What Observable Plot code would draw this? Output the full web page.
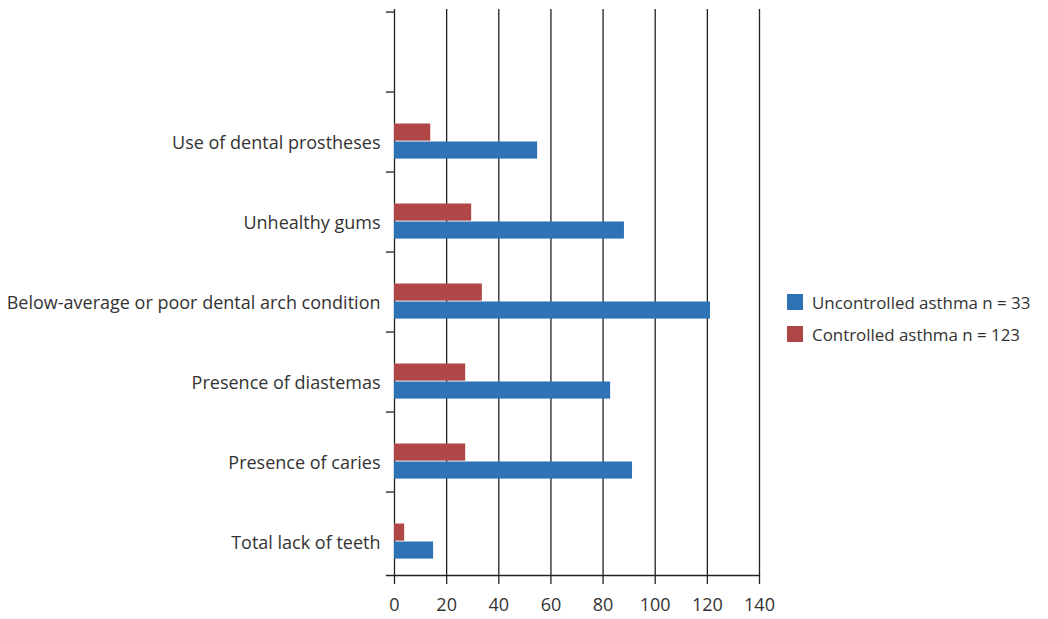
<!DOCTYPE html>
<html>
<head>
<meta charset="utf-8">
<script src="https://cdn.jsdelivr.net/npm/d3@7"></script>
<script src="https://cdn.jsdelivr.net/npm/@observablehq/plot@0.6"></script>
<style>
  html, body { margin: 0; padding: 0; background: #fff; }
  #wrap { position: relative; width: 1048px; height: 619px; font-family: "Open Sans", sans-serif; }
  #legend { position: absolute; left: 787px; top: 286px; font-size: 16.9px; color: #333; }
  .item { display: flex; align-items: center; height: 32px; }
  .sw { width: 16px; height: 16px; margin-right: 9px; }
</style>
</head>
<body>
<div id="wrap"><div id="legend"></div></div>
<script>
const categories = ["Total lack of teeth", "Presence of caries", "Presence of diastemas",
  "Below-average or poor dental arch condition", "Unhealthy gums", "Use of dental prostheses"];
const uncontrolled = [15, 91.3, 82.9, 121.2, 88.2, 54.9];
const controlled = [3.9, 27.3, 27.3, 33.7, 29.6, 13.9];
const seriesNames = ["Uncontrolled asthma n = 33", "Controlled asthma n = 123"];
const seriesColors = ["#2f72b6", "#b04646"];
const xTicks = [0, 20, 40, 60, 80, 100, 120, 140];

const data = categories.map((c, i) => ({category: c, uncontrolled: uncontrolled[i], controlled: controlled[i]}));
const yDomain = ["", ...categories.slice().reverse()];

const W = 1048, H = 619, ML = 394, MR = 289, MT = 9, MB = 44;
const bw = (H - MT - MB) / yDomain.length;

const chart = Plot.plot({
  width: W, height: H,
  marginLeft: ML, marginRight: MR, marginTop: MT, marginBottom: MB,
  style: {fontFamily: "Open Sans, sans-serif", fontSize: "18px", color: "#333", background: "#fff"},
  x: {domain: [0, 140]},
  y: {domain: yDomain, padding: 0},
  marks: [
    Plot.ruleX(xTicks, {stroke: "#222", strokeWidth: 1.3}),
    Plot.barX(data, {y: "category", x: "controlled", fill: seriesColors[1], insetTop: 31.5, insetBottom: 31.4}),
    Plot.barX(data, {y: "category", x: "uncontrolled", fill: seriesColors[0], insetTop: 49.5, insetBottom: 13.4}),
    Plot.axisY({tickSize: 0, tickPadding: 14, dy: 10.5, label: null, fill: "#333", fontSize: 18}),
    Plot.axisY({tickSize: 8, tickFormat: () => "", dy: -bw / 2, label: null, stroke: "#222", strokeWidth: 1.3}),
    Plot.frame({anchor: "bottom", insetLeft: -8, stroke: "#222", strokeWidth: 1.3}),
    Plot.axisX({ticks: xTicks, tickSize: 9, tickPadding: 14, label: null, stroke: "#222", strokeWidth: 1.3, fill: "#333", fontSize: 18})
  ]
});
document.getElementById("wrap").prepend(chart);

const legend = document.getElementById("legend");
seriesNames.forEach((n, i) => {
  const it = document.createElement("div");
  it.className = "item";
  it.innerHTML = `<div class="sw" style="background:${seriesColors[i]}"></div><span>${n}</span>`;
  legend.appendChild(it);
});
</script>
</body>
</html>
